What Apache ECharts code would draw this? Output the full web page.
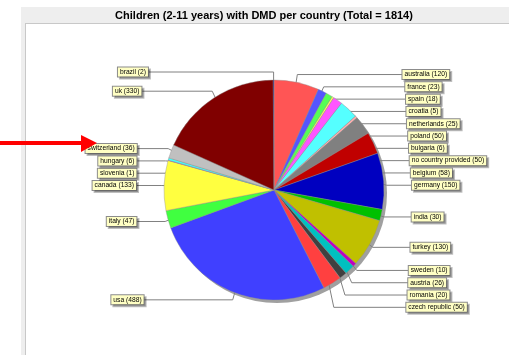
<!DOCTYPE html>
<html>
<head>
<meta charset="utf-8">
<script src="https://cdn.jsdelivr.net/npm/echarts@6/dist/echarts.min.js"></script>
<style>
  html, body { margin: 0; padding: 0; background: #fff; }
  #grafico { width: 509px; height: 355px; }
</style>
</head>
<body>
<div id="grafico"></div>
<script>
// Datos: niños (2-11 años) con DMD por país, en el orden de las porciones
const paises = ['australia', 'france', 'spain', 'croatia', 'netherlands', 'poland', 'bulgaria',
  'no country provided', 'belgium', 'germany', 'india', 'turkey', 'sweden', 'austria', 'romania',
  'czech republic', 'usa', 'italy', 'canada', 'slovenia', 'hungary', 'switzerland', 'uk', 'brazil'];
const ninos = [120, 23, 18, 5, 25, 50, 6, 50, 58, 150, 30, 130, 10, 26, 20, 50, 488, 47, 133, 1, 6, 36, 330, 2];
// Paleta por defecto de JFreeChart
const colores = ['#FF5555', '#5555FF', '#55FF55', '#FFFF55', '#FF55FF', '#55FFFF', '#FFAFAF',
  '#808080', '#C00000', '#0000C0', '#00C000', '#C0C000', '#C000C0', '#00C0C0', '#404040',
  '#FF4040', '#4040FF', '#40FF40', '#FFFF40', '#FF40FF', '#40FFFF', '#C0C0C0', '#800000', '#000080'];

const total = ninos.reduce((a, b) => a + b, 0);
const centro = [274, 190];
const radio = 110;

// Ángulo medio de cada porción (grados desde las 12, sentido horario)
const angulos = [];
let suma = 0;
ninos.forEach(v => { angulos.push((suma + v / 2) / total * 360); suma += v; });

// Etiquetas: posición natural sobre una elipse y luego se empujan hacia abajo si se pisan
const RADIO_ETIQ = 118, SEPARACION = 12.3;
const etiquetas = ninos.map((v, i) => {
  const a = angulos[i] * Math.PI / 180;
  return { sin: Math.sin(a), cos: Math.cos(a), derecha: Math.sin(a) >= 0, y: centro[1] - RADIO_ETIQ * Math.cos(a) };
});
[true, false].forEach(lado => {
  const grupo = etiquetas.filter(e => e.derecha === lado).sort((p, q) => p.y - q.y);
  for (let k = 1; k < grupo.length; k++) {
    if (grupo[k].y < grupo[k - 1].y + SEPARACION) grupo[k].y = grupo[k - 1].y + SEPARACION;
  }
});

const grafico = echarts.init(document.getElementById('grafico'));
grafico.setOption({
  animation: false,
  title: {
    text: 'Children (2-11 years) with DMD per country (Total = ' + total + ')',
    left: 259, top: 5, textAlign: 'center',
    textStyle: { fontFamily: 'Liberation Sans', fontWeight: 'bold', fontSize: 11, color: '#000' }
  },
  graphic: [
    // marco gris estilo JFreeChart
    { type: 'rect', z: -10, shape: { x: 21, y: 7, width: 488, height: 16 }, style: { fill: '#EEEEEE' } },
    { type: 'rect', z: -10, shape: { x: 21, y: 23, width: 4, height: 332 }, style: { fill: '#EEEEEE' } },
    { type: 'line', z: -9, shape: { x1: 25, y1: 23.5, x2: 509, y2: 23.5 }, style: { stroke: '#C8C8C8', lineWidth: 1 } },
    { type: 'line', z: -9, shape: { x1: 25.5, y1: 23, x2: 25.5, y2: 355 }, style: { stroke: '#C8C8C8', lineWidth: 1 } },
    // flecha roja
    { type: 'rect', z: 100, shape: { x: 0, y: 141, width: 83, height: 4 }, style: { fill: '#FF0000' } },
    { type: 'polygon', z: 100, shape: { points: [[81, 135], [97, 143], [81, 152]] }, style: { fill: '#FF0000' } }
  ],
  series: [
    {
      // sombra del pastel
      type: 'pie', silent: true, z: 1,
      center: [centro[0] + 3, centro[1] + 3], radius: radio,
      label: { show: false }, labelLine: { show: false },
      itemStyle: { color: '#A0A0A0' },
      data: [{ value: total, name: 'sombra' }]
    },
    {
      type: 'pie', z: 2,
      center: centro, radius: radio,
      startAngle: 90, clockwise: true,
      avoidLabelOverlap: false,
      itemStyle: { borderColor: '#909090', borderWidth: 0.4 },
      label: {
        show: true, position: 'outside',
        formatter: '{b} ({c})',
        fontFamily: 'Liberation Sans', fontSize: 6.7, lineHeight: 7, color: '#000',
        backgroundColor: '#FFFFC4', borderColor: '#8C8C8C', borderWidth: 1,
        padding: [1, 2],
        shadowColor: 'rgba(0,0,0,0.25)', shadowOffsetX: 2, shadowOffsetY: 2, shadowBlur: 0
      },
      labelLine: {
        show: true, length: 10, length2: 12,
        lineStyle: { color: '#808080', width: 1 }
      },
      labelLayout: params => {
        const e = etiquetas[params.dataIndex];
        const s = e.derecha ? 1 : -1;
        const lx = centro[0] + s * (126 + 12 * Math.abs(e.sin));
        const ancla = [centro[0] + 100 * e.sin, centro[1] - 100 * e.cos];
        const codo = [centro[0] + 113 * e.sin, e.y];
        return {
          x: lx, y: e.y, align: e.derecha ? 'left' : 'right', verticalAlign: 'middle',
          labelLinePoints: [ancla, codo, [lx, e.y]]
        };
      },
      emphasis: { disabled: true },
      data: paises.map((p, i) => ({ name: p, value: ninos[i], itemStyle: { color: colores[i] } }))
    }
  ]
});
</script>
</body>
</html>
